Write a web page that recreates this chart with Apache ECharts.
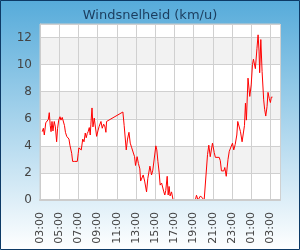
<!DOCTYPE html>
<html>
<head>
<meta charset="utf-8">
<script src="https://cdn.jsdelivr.net/npm/echarts@6/dist/echarts.min.js"></script>
<style>
    html, body { margin: 0; padding: 0; }
    #main { width: 300px; height: 250px; }
</style>
</head>
<body>
<div id="main"></div>
<script>
// tijdstippen (lokale tijd), de as begint om 03:00
var startHour = 3;
var times = [
    "03:14", "03:21", "03:27", "03:36", "03:44", "03:52", "03:58", "04:04", "04:09", "04:15",
    "04:21", "04:29", "04:36", "04:44", "04:50", "04:57", "05:05", "05:11", "05:19", "05:25",
    "05:33", "05:39", "05:47", "05:55", "06:01", "06:07", "06:18", "06:24", "06:37", "06:53",
    "06:59", "07:03", "07:12", "07:18", "07:27", "07:35", "07:43", "07:49", "07:55", "08:01",
    "08:08", "08:14", "08:18", "08:25", "08:31", "08:39", "08:45", "08:54", "09:02", "09:10",
    "09:21", "09:29", "09:38", "09:46", "09:52", "09:56", "10:06", "11:38", "11:46", "11:59",
    "12:07", "12:16", "12:24", "12:32", "12:42", "12:51", "12:57", "13:07", "13:15", "13:24",
    "13:29", "13:37", "13:45", "13:54", "14:06", "14:14", "14:27", "14:37", "14:45", "14:56",
    "15:04", "15:10", "15:17", "15:25", "15:31", "15:40", "15:46", "15:54", "16:00", "16:06",
    "16:15", "16:21", "16:27", "16:33", "16:42", "16:52", "17:30", "18:10", "18:50", "19:11",
    "19:18", "19:28", "19:43", "19:54", "20:06", "20:16", "20:27", "20:35", "20:44", "20:58",
    "21:03", "21:09", "21:16", "21:40", "21:47", "21:54", "22:09", "22:15", "22:24", "22:35",
    "22:43", "22:52", "23:03", "23:11", "23:20", "23:30", "23:36", "23:47", "23:53", "00:03",
    "00:10", "00:18", "00:24", "00:30", "00:40", "00:51", "01:00", "01:08", "01:14", "01:20",
    "01:26", "01:33", "01:36", "01:43", "01:49", "01:53", "02:00", "02:08", "02:18", "02:24",
    "02:31", "02:39", "02:45", "02:53", "03:00", "03:06", "03:13"
];
// windsnelheid in km/u
var speeds = [
    5.05, 5.3, 4.8, 5.7, 5.8, 5.95, 6.45, 5.5, 5.05, 5.8,
    5.1, 5.8, 5.4, 4.3, 5.3, 5.9, 6.15, 5.9, 6.1, 6.0,
    5.5, 5.0, 4.7, 4.7, 4.5, 4.05, 3.45, 2.85, 2.85, 2.85,
    3.45, 3.85, 3.95, 3.7, 4.5, 4.3, 4.95, 4.6, 4.9, 5.05,
    5.35, 4.8, 5.6, 6.8, 5.4, 6.05, 6.05, 4.7, 5.1, 5.45,
    5.8, 5.3, 5.6, 5.4, 5.0, 5.8, 5.9, 6.5, 5.5, 3.7,
    4.5, 5.0, 4.2, 3.9, 3.9, 3.2, 2.55, 3.2, 2.7, 2.3,
    1.4, 1.5, 1.85, 1.4, 0.6, 1.6, 2.5, 1.85, 2.2, 2.2,
    4.0, 3.7, 2.85, 2.0, 1.1, 1.25, 1.35, 0.6, 0.37, 0.7,
    1.75, 0.37, 1.0, 0.3, 0.6, 0, 0, 0, 0, 0,
    0.35, 0, 0.3, 0.3, 0, 0, 3.35, 4.05, 3.2, 4.2,
    4.25, 3.5, 3.15, 3.15, 2.9, 2.15, 2.15, 2.4, 1.75, 3.0,
    3.6, 3.6, 4.2, 3.7, 4.1, 4.8, 5.8, 5.85, 5.05, 4.3,
    4.3, 5.5, 7.15, 5.9, 9.0, 7.65, 8.5, 10.0, 10.4, 10.4,
    9.7, 9.7, 11.2, 12.2, 11.0, 9.4, 11.85, 9.5, 7.4, 6.7,
    6.2, 6.9, 7.95, 7.5, 7.2, 7.6, 7.6
];
var xMax = 25;   // uren na 03:00
var yMax = 13;

// tijd -> uren sinds startHour, over middernacht heen doortellen
var points = [];
var prev = -1;
for (var i = 0; i < times.length; i++) {
    var p = times[i].split(":");
    var h = (parseInt(p[0], 10) - startHour + 24) % 24 + parseInt(p[1], 10) / 60;
    while (h < prev) {
        h += 24;
    }
    prev = h;
    points.push([h, speeds[i]]);
}

function hourLabel(v) {
    if (Math.abs(v % 2) > 1e-6) return '';
    var hh = (startHour + v) % 24;
    return (hh < 10 ? '0' : '') + hh + ':00';
}

var myChart = echarts.init(document.getElementById('main'));
myChart.setOption({
    animation: false,
    backgroundColor: new echarts.graphic.LinearGradient(0, 0, 0, 1, [
        {offset: 0, color: '#56abda'},
        {offset: 1, color: '#ffffff'}
    ]),
    textStyle: {fontFamily: 'DejaVu Sans'},
    title: {
        text: 'Windsnelheid (km/u)',
        left: 'center',
        top: 4,
        textStyle: {fontSize: 13, fontWeight: 'normal', color: '#1b3d5e', fontFamily: 'DejaVu Sans'}
    },
    graphic: [{
        type: 'rect',
        z: 100,
        shape: {x: 0.5, y: 0.5, width: 299, height: 249},
        style: {fill: null, stroke: '#0d3a66', lineWidth: 1}
    }],
    grid: {
        left: 40,
        right: 20,
        top: 24,
        bottom: 50,
        show: true,
        backgroundColor: '#ffffff',
        borderColor: '#cccccc',
        borderWidth: 1
    },
    xAxis: [{
        type: 'value',
        min: 0,
        max: xMax,
        interval: 2,
        axisLine: {show: true, lineStyle: {color: '#cccccc'}},
        axisTick: {show: false},
        splitLine: {show: true, lineStyle: {color: '#d0d0d0'}},
        axisLabel: {
            rotate: 90,
            margin: 12,
            fontSize: 11,
            color: '#444444',
            formatter: hourLabel
        }
    }, {
        // alleen de aslijn, boven de lijn getekend zodat 0-waarden wegvallen
        type: 'value',
        position: 'bottom',
        min: 0,
        max: xMax,
        z: 10,
        zlevel: 1,
        axisLine: {show: true, lineStyle: {color: '#cccccc', width: 2}},
        axisTick: {show: false},
        axisLabel: {show: false},
        splitLine: {show: false}
    }],
    yAxis: {
        type: 'value',
        min: 0,
        max: yMax,
        interval: 2,
        axisLine: {show: true, lineStyle: {color: '#cccccc'}},
        axisTick: {show: false},
        splitLine: {show: true, lineStyle: {color: '#d0d0d0'}},
        splitArea: {show: true, areaStyle: {color: ['#ffffff', '#f2f2f2']}},
        axisLabel: {
            margin: 8,
            fontSize: 12,
            color: '#444444',
            formatter: function (v) {
                return v % 2 === 0 ? String(v) : '';
            }
        }
    },
    series: [{
        type: 'line',
        xAxisIndex: 0,
        z: 2,
        data: points,
        showSymbol: false,
        lineStyle: {color: '#ff0000', width: 1}
    }]
});
</script>
</body>
</html>
